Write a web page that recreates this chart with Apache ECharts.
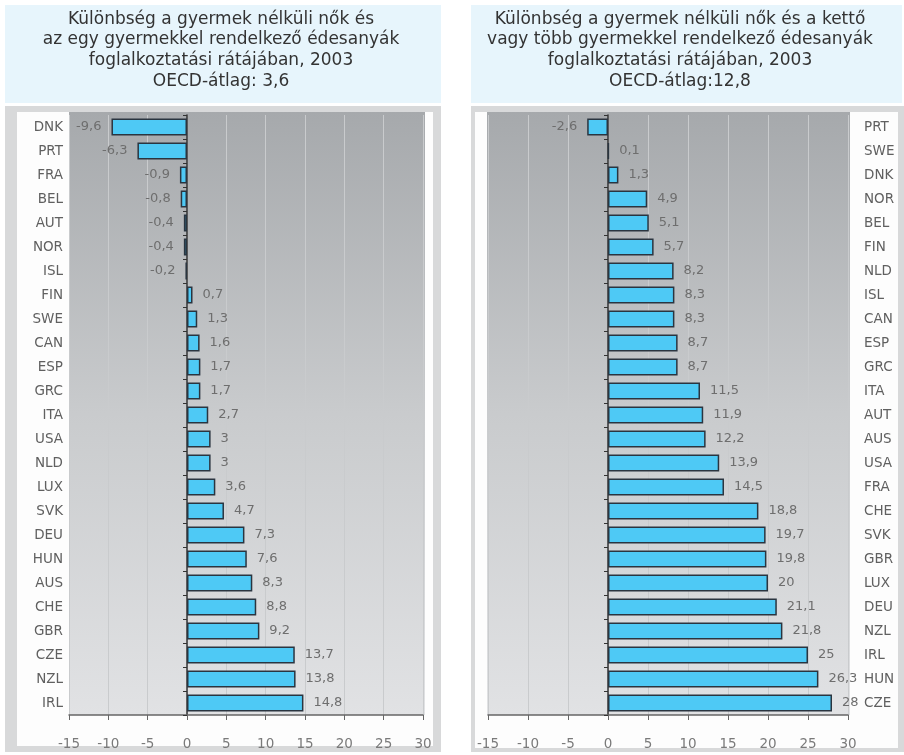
<!DOCTYPE html>
<html>
<head>
<meta charset="utf-8">
<script src="https://cdn.jsdelivr.net/npm/echarts@6/dist/echarts.min.js"></script>
<style>
html,body{margin:0;padding:0;background:#ffffff;}
#chart{width:904px;height:755px;}
</style>
</head>
<body>
<div id="chart"></div>
<script>
var leftTitle = 'Különbség a gyermek nélküli nők és\naz egy gyermekkel rendelkező édesanyák\nfoglalkoztatási rátájában, 2003\nOECD-átlag: 3,6';
var rightTitle = 'Különbség a gyermek nélküli nők és a kettő\nvagy több gyermekkel rendelkező édesanyák\nfoglalkoztatási rátájában, 2003\nOECD-átlag:12,8';

var leftCategories = ['DNK','PRT','FRA','BEL','AUT','NOR','ISL','FIN','SWE','CAN','ESP','GRC','ITA','USA','NLD','LUX','SVK','DEU','HUN','AUS','CHE','GBR','CZE','NZL','IRL'];
var leftValues = [-9.6,-6.3,-0.9,-0.8,-0.4,-0.4,-0.2,0.7,1.3,1.6,1.7,1.7,2.7,3,3,3.6,4.7,7.3,7.6,8.3,8.8,9.2,13.7,13.8,14.8];

var rightCategories = ['PRT','SWE','DNK','NOR','BEL','FIN','NLD','ISL','CAN','ESP','GRC','ITA','AUT','AUS','USA','FRA','CHE','SVK','GBR','LUX','DEU','NZL','IRL','HUN','CZE'];
var rightValues = [-2.6,0.1,1.3,4.9,5.1,5.7,8.2,8.3,8.3,8.7,8.7,11.5,11.9,12.2,13.9,14.5,18.8,19.7,19.8,20,21.1,21.8,25,26.3,28];

var xMin = -15, xMax = 30, xStep = 5;

var FONT = 'DejaVu Sans';
var chart = echarts.init(document.getElementById('chart'), null, {renderer:'canvas'});

function plotGradient(){
  return {type:'linear', x:0, y:0, x2:0, y2:1, colorStops:[
    {offset:0, color:'#a6a9ac'},
    {offset:0.5, color:'#c9cbcd'},
    {offset:1, color:'#e1e2e4'}
  ]};
}

function fmt(v){ return String(v).replace('.', ','); }

function barData(values){
  return values.map(function(v){
    return {value:v, label:{position: v < 0 ? 'left' : 'right'}};
  });
}

function xAxisCfg(gi){
  return {
    gridIndex: gi, type:'value', min:xMin, max:xMax, interval:xStep,
    axisLine:{show:true, onZero:false, lineStyle:{color:'#666', width:1.5}},
    axisTick:{show:true, length:5, lineStyle:{color:'#666'}},
    axisLabel:{color:'#7a7a7a', fontSize:13.5, fontFamily:FONT, margin:22},
    splitLine:{show:true, lineStyle:{color:'#c9cbcd', width:1}}
  };
}

function yLabelAxis(gi, cats, pos, margin){
  return {
    gridIndex: gi, type:'category', data:cats, inverse:true, position:pos,
    axisLine:{show:false, onZero:false}, axisTick:{show:false},
    axisLabel:{color:'#606060', fontSize:13.5, fontFamily:FONT, margin:margin},
    splitLine:{show:false}
  };
}

function yZeroAxis(gi, cats){
  return {
    gridIndex: gi, type:'category', data:cats, inverse:true, position:'left',
    axisLine:{show:true, onZero:true, lineStyle:{color:'#333', width:1.5}},
    axisTick:{show:true, length:4, lineStyle:{color:'#333'}},
    axisLabel:{show:false}, splitLine:{show:false}
  };
}

function barSeries(xi, yi, values){
  return {
    type:'bar', xAxisIndex:xi, yAxisIndex:yi, data:barData(values),
    barWidth:17, z:5,
    itemStyle:{color:'#4ec9f5', borderColor:'#2a3540', borderWidth:1.5},
    label:{show:true, distance:10, color:'#6e6e6e', fontSize:13, fontFamily:FONT,
      formatter:function(p){ return fmt(p.value); }},
    emphasis:{disabled:true}
  };
}

var option = {
  animation:false,
  backgroundColor:'#ffffff',
  graphic:[
    {type:'rect', z:-100, silent:true, shape:{x:5, y:5, width:436, height:98}, style:{fill:'#e7f5fc'}},
    {type:'rect', z:-100, silent:true, shape:{x:5, y:106, width:436, height:646}, style:{fill:'#d8d9da'}},
    {type:'rect', z:-99, silent:true, shape:{x:17, y:112, width:416, height:634}, style:{fill:'#fdfdfd'}},
    {type:'rect', z:-98, silent:true, shape:{x:69, y:112, width:356, height:603}, style:{fill:plotGradient()}},
    {type:'rect', z:-100, silent:true, shape:{x:471, y:5, width:431, height:98}, style:{fill:'#e7f5fc'}},
    {type:'rect', z:-100, silent:true, shape:{x:471, y:106, width:433, height:646}, style:{fill:'#d8d9da'}},
    {type:'rect', z:-99, silent:true, shape:{x:475, y:112, width:423, height:636}, style:{fill:'#fdfdfd'}},
    {type:'rect', z:-98, silent:true, shape:{x:487, y:112, width:363, height:603}, style:{fill:plotGradient()}},
    {type:'text', z:10, silent:true, x:221, y:9, style:{text:leftTitle, align:'center', verticalAlign:'top',
      fontSize:17, fontFamily:FONT, lineHeight:20.6, fill:'#333333'}},
    {type:'text', z:10, silent:true, x:680, y:9, style:{text:rightTitle, align:'center', verticalAlign:'top',
      fontSize:17, fontFamily:FONT, lineHeight:20.6, fill:'#333333'}}
  ],
  grid:[
    {left:69, top:115, width:354, height:600, containLabel:false},
    {left:488, top:115, width:360, height:600, containLabel:false}
  ],
  xAxis:[xAxisCfg(0), xAxisCfg(1)],
  yAxis:[
    yLabelAxis(0, leftCategories, 'left', 6),
    yZeroAxis(0, leftCategories),
    yLabelAxis(1, rightCategories, 'right', 16),
    yZeroAxis(1, rightCategories)
  ],
  series:[
    barSeries(0, 0, leftValues),
    barSeries(1, 2, rightValues)
  ]
};
chart.setOption(option);
</script>
</body>
</html>
